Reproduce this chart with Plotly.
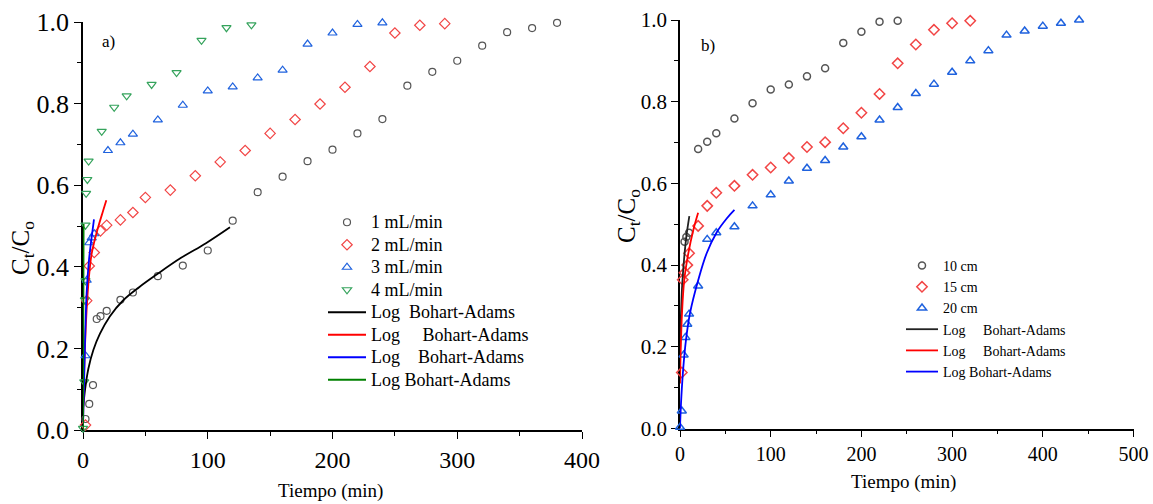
import plotly.graph_objects as go

# ---------------- Panel a) : flow rates ----------------
t1 = [2, 5, 8, 11, 14, 19, 30, 40, 60, 80, 100, 120, 140, 160, 180, 200, 220, 240, 260, 280, 300, 320, 340, 360, 380]
c1 = [0.027, 0.064, 0.11, 0.272, 0.279, 0.292, 0.319, 0.337, 0.377, 0.403, 0.44, 0.513, 0.583, 0.621, 0.659, 0.687,
      0.727, 0.762, 0.844, 0.878, 0.905, 0.942, 0.975, 0.985, 0.998]

t2 = [2, 3, 5, 9, 14, 19, 30, 40, 50, 70, 90, 110, 130, 150, 170, 190, 210, 230, 250, 270, 290]
c2 = [0.012, 0.317, 0.402, 0.435, 0.488, 0.502, 0.515, 0.533, 0.570, 0.588, 0.623, 0.657, 0.685, 0.727, 0.761,
      0.799, 0.840, 0.891, 0.973, 0.992, 0.996]

t3 = [2, 3, 5, 7, 9, 20, 30, 40, 60, 80, 100, 120, 140, 160, 180, 200, 220, 240]
c3 = [0.182, 0.367, 0.459, 0.471, 0.481, 0.685, 0.704, 0.725, 0.760, 0.796, 0.831, 0.841, 0.863, 0.882, 0.946,
      0.973, 0.994, 0.998]

t4 = [0, 1, 1.5, 2, 2, 2.5, 3.5, 4.5, 15, 25, 35, 55, 75, 95, 115, 135]
c4 = [0.004, 0.118, 0.319, 0.366, 0.502, 0.58, 0.614, 0.659, 0.732, 0.791, 0.819, 0.847, 0.876, 0.955, 0.986, 0.993]

fit1_t = [0.2, 1.6, 4.3, 8.3, 13.6, 21.6, 32.3, 45, 59, 78.6, 98.6, 117.8]
fit1_c = [0.057, 0.098, 0.150, 0.196, 0.236, 0.279, 0.318, 0.350, 0.381, 0.422, 0.458, 0.497]
fit2_t = [0, 0.8, 2.9, 4.8, 7, 11.5, 16.3, 18.7]
fit2_c = [0.008, 0.131, 0.294, 0.376, 0.433, 0.49, 0.539, 0.563]
fit3_t = [0, 1.6, 2.9, 4.8, 7, 8.8]
fit3_c = [0.01, 0.212, 0.335, 0.417, 0.474, 0.516]
fit4_t = [0, 0.25, 0.5]
fit4_c = [0.0, 0.25, 0.505]

# ---------------- Panel b) : bed heights ----------------
t10 = [5, 7, 10, 20, 30, 40, 60, 80, 100, 120, 140, 160, 180, 200, 220, 240]
c10 = [0.457, 0.469, 0.479, 0.684, 0.702, 0.723, 0.759, 0.796, 0.830, 0.842, 0.862, 0.882, 0.944, 0.971, 0.996, 0.998]

t15 = [2, 3, 5, 8, 10, 20, 30, 40, 60, 80, 100, 120, 140, 160, 180, 200, 220, 240, 260, 280, 300, 320]
c15 = [0.137, 0.364, 0.381, 0.40, 0.429, 0.496, 0.545, 0.577, 0.594, 0.621, 0.639, 0.662, 0.689, 0.701, 0.735,
       0.773, 0.819, 0.894, 0.940, 0.976, 0.992, 0.998]

t20 = [0, 2, 4, 6, 8, 10, 20, 30, 40, 60, 80, 100, 120, 140, 160, 180, 200, 220, 240, 260, 280, 300, 320, 340,
       360, 380, 400, 420, 440]
c20 = [0.003, 0.043, 0.18, 0.223, 0.255, 0.28, 0.349, 0.463, 0.479, 0.494, 0.545, 0.572, 0.606, 0.637, 0.656,
       0.689, 0.714, 0.755, 0.786, 0.82, 0.843, 0.872, 0.90, 0.925, 0.963, 0.973, 0.985, 0.992, 1.0]

fitA_t = [0.2, 0.5, 1.5, 2.5, 4.7, 7, 10.3]
fitA_c = [0.2, 0.24, 0.306, 0.355, 0.42, 0.47, 0.52]
fitB_t = [0, 0.7, 2.2, 4.7, 9.2, 14.7, 20]
fitB_c = [0.11, 0.184, 0.282, 0.364, 0.429, 0.486, 0.528]
fitC_t = [0, 0.3, 1.5, 3.7, 6.6, 11, 20.2, 29.4, 40.4, 51.5, 60]
fitC_c = [0.0, 0.02, 0.078, 0.151, 0.217, 0.282, 0.364, 0.429, 0.48, 0.514, 0.535]

legend_a = ["1 mL/min", "2 mL/min", "3 mL/min", "4 mL/min",
            "Log&nbsp;&nbsp;Bohart-Adams", "Log&nbsp;&nbsp;&nbsp;&nbsp;&nbsp;Bohart-Adams",
            "Log&nbsp;&nbsp;&nbsp;&nbsp;Bohart-Adams", "Log Bohart-Adams"]
legend_b = ["10 cm", "15 cm", "20 cm",
            "Log&nbsp;&nbsp;&nbsp;&nbsp;&nbsp;Bohart-Adams", "Log&nbsp;&nbsp;&nbsp;&nbsp;&nbsp;Bohart-Adams",
            "Log Bohart-Adams"]

FONT = "Liberation Serif"
GRAY = "#555555"
RED = "#f24545"
BLUE = "#1f62de"
GREEN = "#35a35c"


def big(s):
    return "<span style='font-size:18px'>" + s + "</span>"


fig = go.Figure()

# panel a markers
for t, c, sym, col, name in [(t1, c1, "circle-open", GRAY, legend_a[0]),
                             (t2, c2, "diamond-open", RED, legend_a[1]),
                             (t3, c3, "triangle-up-open", BLUE, legend_a[2]),
                             (t4, c4, "triangle-down-open", GREEN, legend_a[3])]:
    fig.add_trace(go.Scatter(x=t, y=c, mode="markers", name=big(name), cliponaxis=False,
                             marker=dict(symbol=sym, size=8 if sym != "circle-open" else 7, color=col,
                                         line=dict(width=1.2, color=col)),
                             xaxis="x", yaxis="y", legend="legend"))
for t, c, col, name in [(fit1_t, fit1_c, "black", legend_a[4]),
                        (fit2_t, fit2_c, "#ff0000", legend_a[5]),
                        (fit3_t, fit3_c, "#0000ff", legend_a[6]),
                        (fit4_t, fit4_c, "#008000", legend_a[7])]:
    fig.add_trace(go.Scatter(x=t, y=c, mode="lines", name=big(name),
                             line=dict(color=col, width=1.8, shape="spline", smoothing=1.0),
                             xaxis="x", yaxis="y", legend="legend"))

# panel b markers
for t, c, sym, col, name in [(t10, c10, "circle-open", GRAY, legend_b[0]),
                             (t15, c15, "diamond-open", RED, legend_b[1]),
                             (t20, c20, "triangle-up-open", BLUE, legend_b[2])]:
    fig.add_trace(go.Scatter(x=t, y=c, mode="markers", name=name, cliponaxis=False,
                             marker=dict(symbol=sym, size=8 if sym != "circle-open" else 7, color=col,
                                         line=dict(width=1.5, color=col)),
                             xaxis="x2", yaxis="y2", legend="legend2"))
for t, c, col, name in [(fitA_t, fitA_c, "#222222", legend_b[3]),
                        (fitB_t, fitB_c, "#ff0000", legend_b[4]),
                        (fitC_t, fitC_c, "#0000ff", legend_b[5])]:
    fig.add_trace(go.Scatter(x=t, y=c, mode="lines", name=name,
                             line=dict(color=col, width=1.8, shape="spline", smoothing=1.0),
                             xaxis="x2", yaxis="y2", legend="legend2"))

W, H = 1153, 504


def px(v):
    return v / W


def py(v):
    return 1 - v / H


def axis(dom, rng, dtick, minor_dtick, fsize, anchor):
    return dict(domain=dom, range=rng, dtick=dtick, tick0=0, showgrid=False, zeroline=False,
                showline=True, linecolor="black", linewidth=1.5, ticks="outside", ticklen=7,
                tickwidth=1.3, tickcolor="black", anchor=anchor, layer="below traces",
                tickfont=dict(family=FONT, size=fsize, color="black"), automargin=False,
                minor=dict(dtick=minor_dtick, tick0=0, ticks="outside", ticklen=4, tickwidth=1.2,
                           tickcolor="black", showgrid=False))


xa = axis([px(83), px(582)], [0, 400], 100, 50, 24, "y")
ya = axis([py(430), py(22)], [0, 1.0], 0.2, 0.1, 26, "x")
ya["tickformat"] = ".1f"
xb = axis([px(680), px(1133.5)], [0, 500], 100, 50, 20, "y2")
yb = axis([py(428.5), py(20)], [0, 1.0], 0.2, 0.1, 21, "x2")
yb["tickformat"] = ".1f"


def note(text, x, y, size, angle=0):
    return dict(text=text, x=px(x), y=py(y), xref="paper", yref="paper", showarrow=False,
                xanchor="center", yanchor="middle", textangle=angle,
                font=dict(family=FONT, size=size, color="black"))


fig.update_layout(
    width=W, height=H, margin=dict(l=0, r=0, t=0, b=0),
    paper_bgcolor="white", plot_bgcolor="white",
    font=dict(family=FONT, color="black"),
    xaxis=xa, yaxis=ya, xaxis2=xb, yaxis2=yb,
    legend=dict(x=px(323), y=py(206), xanchor="left", yanchor="top", bgcolor="rgba(0,0,0,0)",
                font=dict(family=FONT, size=15, color="black"), itemwidth=38, tracegroupgap=0,
                traceorder="normal"),
    legend2=dict(x=px(901), y=py(250), xanchor="left", yanchor="top", bgcolor="rgba(0,0,0,0)",
                 font=dict(family=FONT, size=14, color="black"), itemwidth=32, tracegroupgap=0,
                 traceorder="normal"),
    annotations=[
        note("a)", 108.5, 41.5, 17),
        note("b)", 707.5, 45, 17),
        note("Tiempo (min)", 330, 491, 19),
        note("Tiempo (min)", 903, 482, 19),
        note("C<sub>t</sub>/C<sub>o</sub>", 22, 248, 25, -90),
        note("C<sub>t</sub>/C<sub>o</sub>", 628, 216, 25, -90),
    ],
)

fig.write_html("out.html")
